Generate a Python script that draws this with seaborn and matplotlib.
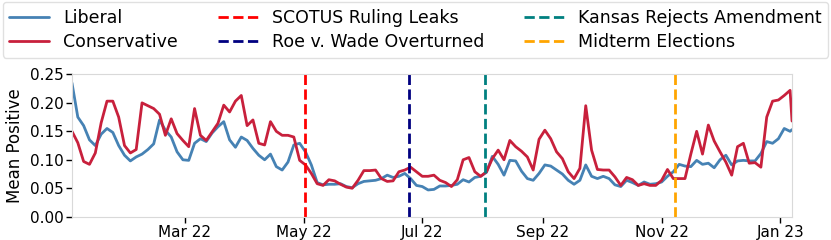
import pandas as pd
import matplotlib
matplotlib.use("Agg")
import matplotlib.pyplot as plt
import matplotlib.dates as mdates
import seaborn as sns

# mean positive score, sampled every 3 days from Jan 2 2022, plus a last day (Jan 7 2023)
liberal = [
    0.235, 0.175, 0.160, 0.135, 0.125, 0.145, 0.155, 0.148, 0.125, 0.108,
    0.098, 0.105, 0.110, 0.118, 0.128, 0.170, 0.152, 0.140, 0.114, 0.100,
    0.099, 0.129, 0.137, 0.132, 0.147, 0.158, 0.167, 0.135, 0.122, 0.140,
    0.134, 0.120, 0.108, 0.100, 0.110, 0.088, 0.082, 0.096, 0.126, 0.129,
    0.114, 0.091, 0.060, 0.056, 0.057, 0.057, 0.058, 0.053, 0.051, 0.058,
    0.062, 0.063, 0.064, 0.067, 0.073, 0.069, 0.071, 0.076, 0.067, 0.055,
    0.053, 0.047, 0.048, 0.054, 0.054, 0.055, 0.057, 0.065, 0.061, 0.069,
    0.071, 0.078, 0.106, 0.092, 0.073, 0.099, 0.098, 0.080, 0.067, 0.064,
    0.076, 0.091, 0.089, 0.082, 0.075, 0.064, 0.057, 0.064, 0.091, 0.071,
    0.067, 0.071, 0.067, 0.056, 0.053, 0.064, 0.060, 0.055, 0.061, 0.057,
    0.058, 0.061, 0.071, 0.079, 0.092, 0.089, 0.088, 0.099, 0.092, 0.094,
    0.086, 0.100, 0.108, 0.091, 0.098, 0.099, 0.098, 0.098, 0.111, 0.132,
    0.129, 0.137, 0.155, 0.150, 0.153,
]
conservative = [
    0.150, 0.130, 0.097, 0.092, 0.112, 0.165, 0.203, 0.203, 0.175, 0.125,
    0.112, 0.118, 0.200, 0.195, 0.190, 0.180, 0.143, 0.172, 0.146, 0.134,
    0.123, 0.190, 0.143, 0.134, 0.149, 0.164, 0.196, 0.184, 0.203, 0.213,
    0.160, 0.170, 0.129, 0.126, 0.167, 0.150, 0.143, 0.143, 0.140, 0.099,
    0.091, 0.076, 0.058, 0.055, 0.065, 0.063, 0.057, 0.052, 0.050, 0.064,
    0.081, 0.081, 0.082, 0.067, 0.062, 0.063, 0.079, 0.082, 0.087, 0.079,
    0.071, 0.071, 0.073, 0.064, 0.060, 0.053, 0.065, 0.100, 0.104, 0.079,
    0.071, 0.079, 0.102, 0.117, 0.100, 0.134, 0.123, 0.115, 0.105, 0.082,
    0.136, 0.152, 0.137, 0.114, 0.102, 0.079, 0.067, 0.085, 0.195, 0.117,
    0.083, 0.082, 0.082, 0.070, 0.055, 0.069, 0.065, 0.055, 0.058, 0.055,
    0.055, 0.064, 0.083, 0.067, 0.067, 0.067, 0.110, 0.150, 0.110, 0.161,
    0.133, 0.114, 0.096, 0.073, 0.123, 0.129, 0.094, 0.095, 0.087, 0.175,
    0.203, 0.205, 0.213, 0.222, 0.168,
]

events = ["SCOTUS Ruling Leaks", "Roe v. Wade Overturned",
          "Kansas Rejects Amendment", "Midterm Elections"]
event_dates = ["2022-05-02", "2022-06-24", "2022-08-02", "2022-11-08"]
event_colors = ["red", "navy", "teal", "orange"]

dates = list(pd.date_range("2022-01-02", periods=len(liberal) - 1, freq="3D"))
dates.append(pd.Timestamp("2023-01-07"))

df = pd.DataFrame({
    "date": dates * 2,
    "value": liberal + conservative,
    "group": ["Liberal"] * len(liberal) + ["Conservative"] * len(conservative),
})

sns.set_style("white", {"axes.edgecolor": ".85", "text.color": "black",
                        "axes.labelcolor": "black", "xtick.color": "black",
                        "ytick.color": "black"})
plt.rcParams["font.family"] = ["DejaVu Sans"]

fig = plt.figure(figsize=(8.31, 2.4), dpi=100)
ax = fig.add_axes([0.0866, 0.097, 0.8665, 0.593])

sns.lineplot(data=df, x="date", y="value", hue="group",
             palette={"Liberal": "steelblue", "Conservative": "#C8203C"},
             linewidth=2, ax=ax, legend=False)

for name, d, c in zip(events, event_dates, event_colors):
    ax.axvline(pd.Timestamp(d), color=c, linestyle="--", linewidth=2, label=name)

ax.set_xlim(dates[0], dates[-1])
ax.set_ylim(0, 0.25)
ax.set_yticks([0, 0.05, 0.10, 0.15, 0.20, 0.25])
ax.yaxis.set_major_formatter(plt.FormatStrFormatter("%.2f"))
ax.xaxis.set_major_locator(mdates.MonthLocator(bymonth=[1, 3, 5, 7, 9, 11]))
ax.xaxis.set_major_formatter(mdates.DateFormatter("%b %y"))
ax.set_xlabel("")
ax.set_ylabel("Mean Positive", fontsize=12, color="black")
ax.tick_params(bottom=True, left=True, length=4, width=1, color="black",
               labelcolor="black", labelsize=11, pad=2)

handles = [plt.Line2D([], [], color="steelblue", linewidth=2),
           plt.Line2D([], [], color="#C8203C", linewidth=2)]
labels = ["Liberal", "Conservative"]
h, l = ax.get_legend_handles_labels()
leg = fig.legend(handles + h, labels + l, loc="upper center", bbox_to_anchor=(0.5, 1.0),
                 ncol=3, fontsize=12.5, borderaxespad=0.1, handlelength=2.3,
                 columnspacing=2.3, frameon=True, edgecolor=".85", labelspacing=0.35)
for t in leg.get_texts():
    t.set_color("black")

fig.savefig("out.png", dpi=100)
